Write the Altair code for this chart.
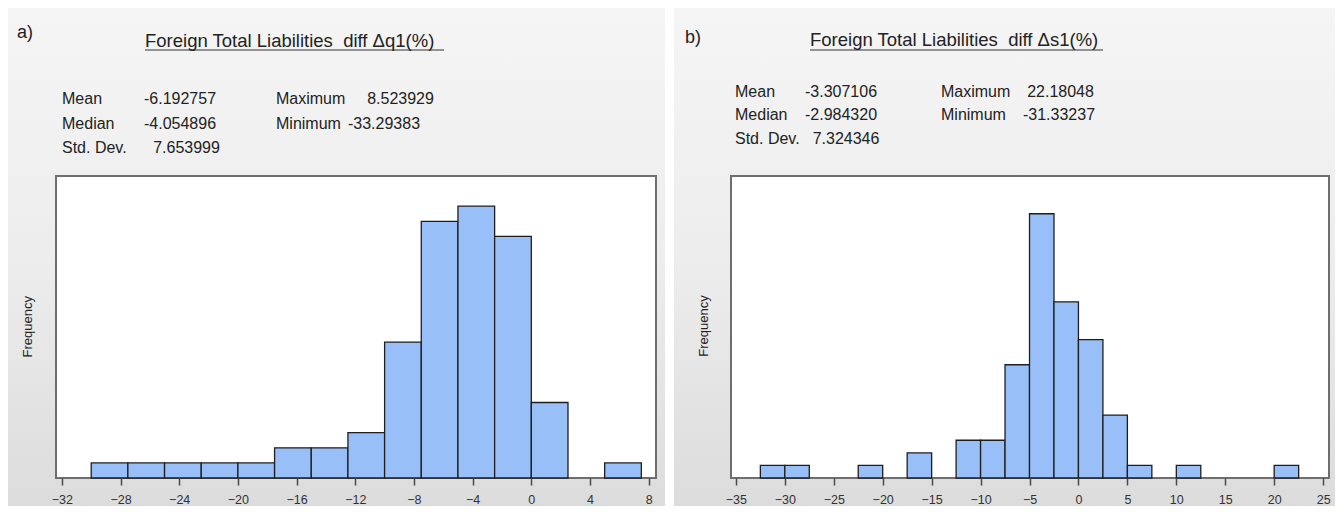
import altair as alt
import pandas as pd

# ---------------- data ----------------
BIN_WIDTH = 2.5

a_bin_start = [-30, -27.5, -25, -22.5, -20, -17.5, -15, -12.5, -10, -7.5, -5, -2.5, 0, 5]
a_counts = [1, 1, 1, 1, 1, 2, 2, 3, 9, 17, 18, 16, 5, 1]
a_ticks = [-32, -28, -24, -20, -16, -12, -8, -4, 0, 4, 8]
a_letter = "a)"
a_title = "Foreign Total Liabilities\u00a0 diff \u0394q1(%)"
a_stat_values = ["-6.192757", "-4.054896", "7.653999", "8.523929", "-33.29383"]

b_bin_start = [-32.5, -30, -22.5, -17.5, -12.5, -10, -7.5, -5, -2.5, 0, 2.5, 5, 10, 20]
b_counts = [1, 1, 1, 2, 3, 3, 9, 21, 14, 11, 5, 1, 1, 1]
b_ticks = [-35, -30, -25, -20, -15, -10, -5, 0, 5, 10, 15, 20, 25]
b_letter = "b)"
b_title = "Foreign Total Liabilities\u00a0 diff \u0394s1(%)"
b_stat_values = ["-3.307106", "-2.984320", "7.324346", "22.18048", "-31.33237"]

stat_labels = ["Mean", "Median", "Std. Dev.", "Maximum", "Minimum"]
y_label = "Frequency"

# ---------------- layout / style ----------------
FONT = "Liberation Sans, Arial, Helvetica, sans-serif"
TXT = "#222222"
PLOT_H = 302

layout_a = dict(
    width=600, xdom=[-32.4, 8.5], ymax=20,
    bg=(-48, 609), letter=(-39, -137.8), title_x=89, title_y=-129, uline=(89, 388, -126),
    lab_x=[6, 6, 6, 220, 220], row_y=[-72, -47, -23, -72, -47],
    val_cx=[124, 124, 130.5, 344.5, 328], freq=(-28.5, 150.7),
)
layout_b = dict(
    width=598, xdom=[-35.5, 25.6], ymax=24,
    bg=(-57, 604), letter=(-46, -132.8), title_x=79, title_y=-130, uline=(79, 372, -126),
    lab_x=[4, 4, 4, 210, 210], row_y=[-79, -56, -32, -79, -56],
    val_cx=[110, 110, 115, 329.5, 328], freq=(-27, 150),
)

one = pd.DataFrame({"k": [0]})

gradient = alt.LinearGradient(
    gradient="linear",
    stops=[
        alt.GradientStop(color="#f5f5f5", offset=0),
        alt.GradientStop(color="#ededed", offset=0.5),
        alt.GradientStop(color="#dcdcdc", offset=1),
    ],
    x1=0, x2=0, y1=0, y2=1,
)


def text_layer(txt, x, y, size, align="left", baseline="alphabetic", angle=None):
    kw = dict(font=FONT, fontSize=size, color=TXT, align=align, baseline=baseline)
    if angle is not None:
        kw["angle"] = angle
    return alt.Chart(one).mark_text(**kw).encode(
        x=alt.value(x), y=alt.value(y), text=alt.value(txt)
    )


def panel(letter, title, bin_start, counts, ticks, values, L):
    df = pd.DataFrame({"start": bin_start, "count": counts})
    df["end"] = df["start"] + BIN_WIDTH

    bg = alt.Chart(one).mark_rect(color=gradient).encode(
        x=alt.value(L["bg"][0]), x2=alt.value(L["bg"][1]),
        y=alt.value(-168), y2=alt.value(330),
    )
    frame = alt.Chart(one).mark_rect(fill="white", stroke="#6e6e6e", strokeWidth=2).encode(
        x=alt.value(0), x2=alt.value(L["width"]),
        y=alt.value(0), y2=alt.value(PLOT_H),
    )
    bars = alt.Chart(df).mark_rect(fill="#98bff8", stroke="#1e1e1e", strokeWidth=1.3).encode(
        x=alt.X("start:Q",
                scale=alt.Scale(domain=L["xdom"], nice=False, zero=False),
                axis=alt.Axis(values=ticks, title=None, grid=False, domain=False,
                              tickSize=7, tickWidth=1.5, tickColor="#4a4a4a",
                              labelFont=FONT, labelFontSize=12.5, labelColor="#333333",
                              labelPadding=8, labelFlush=False, labelOverlap=False,
                              format="d", zindex=1)),
        x2="end:Q",
        y=alt.Y("count:Q", scale=alt.Scale(domain=[0, L["ymax"]], nice=False), axis=None),
        y2=alt.datum(0),
    )
    underline = alt.Chart(one).mark_rule(color="#333333", strokeWidth=1.2).encode(
        x=alt.value(L["uline"][0]), x2=alt.value(L["uline"][1]), y=alt.value(L["uline"][2])
    )
    layers = [bg, frame, bars, underline,
              text_layer(letter, L["letter"][0], L["letter"][1], 18),
              text_layer(title, L["title_x"], L["title_y"], 18.5),
              text_layer(y_label, L["freq"][0], L["freq"][1], 13, align="center",
                         baseline="middle", angle=270)]
    for i, lab in enumerate(stat_labels):
        layers.append(text_layer(lab, L["lab_x"][i], L["row_y"][i], 16))
        layers.append(text_layer(values[i], L["val_cx"][i], L["row_y"][i], 16, align="center"))
    return alt.layer(*layers).properties(width=L["width"], height=PLOT_H)


left = panel(a_letter, a_title, a_bin_start, a_counts, a_ticks, a_stat_values, layout_a)
right = panel(b_letter, b_title, b_bin_start, b_counts, b_ticks, b_stat_values, layout_b)

chart = alt.hconcat(left, right, spacing=9).properties(
    background="white", padding=0
).configure_view(stroke=None)

chart.save("out.html", embed_options={"renderer": "svg", "actions": False})
